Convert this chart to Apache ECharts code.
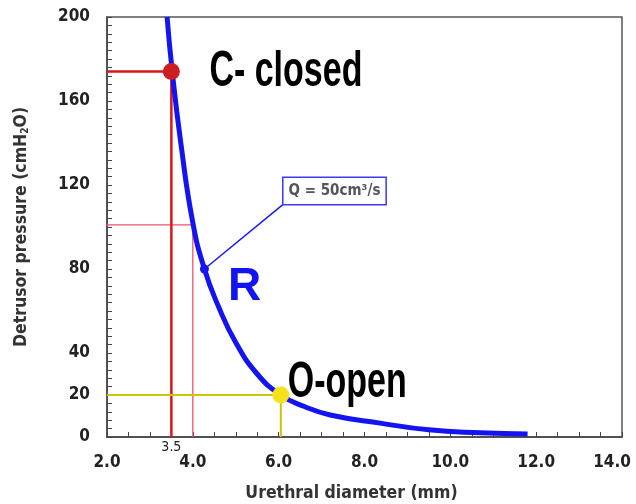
<!DOCTYPE html>
<html><head><meta charset="utf-8">
<script src="https://cdn.jsdelivr.net/npm/echarts@6/dist/echarts.min.js"></script>
<style>html,body{margin:0;padding:0;background:#fff}#c{width:636px;height:504px}</style>
</head><body><div id="c"></div>
<script>
// Detrusor pressure vs urethral diameter, Q = 50 cm3/s
const curveR = [[3.40,200],[3.52,174],[3.72,140],[4.00,102],[4.27,80],[4.60,62],[5.00,45],[5.50,30],[6.05,20],[6.60,14.5],[7.20,10.5],[8.40,6.5],[9.50,3.4],[10.70,2.0],[11.80,1.4]];
const closedPt = [3.5, 174];
const refPt = [4.0, 101];
const openPt = [6.05, 20];
const rPt = [4.27, 80];
const qLabelPt = [6.09, 110.5];
const yLabelValues = [0, 20, 40, 80, 120, 160, 200];
const FONT = '"DejaVu Sans Condensed", "Liberation Sans Narrow", sans-serif';
const BIG = '"Liberation Sans", Arial, sans-serif';

const chart = echarts.init(document.getElementById('c'), null, {renderer:'canvas'});
chart.setOption({
  animation:false,
  backgroundColor:'#fff',
  grid:{left:107,right:14,top:17,bottom:67,show:true,borderColor:'#555',borderWidth:1.5,outerBoundsMode:'none',containLabel:false},
  xAxis:{type:'value',min:2,max:14,interval:2,
    name:'Urethral diameter (mm)',nameLocation:'middle',nameGap:47,
    nameTextStyle:{fontFamily:FONT,fontWeight:'bold',fontSize:17.5,color:'#333',padding:[0,26,0,0]},
    axisLine:{show:true,lineStyle:{color:'#444',width:1.5}},
    axisTick:{show:true,inside:true,length:5,lineStyle:{color:'#444'}},
    minorTick:{show:true,splitNumber:4,length:5,lineStyle:{color:'#444'}},
    splitLine:{show:false},
    axisLabel:{margin:17,fontFamily:FONT,fontWeight:'bold',fontSize:17,color:'#222',
      formatter:v=>v===14?'{last|'+v.toFixed(1)+'}':v.toFixed(1),
      rich:{last:{fontFamily:FONT,fontWeight:'bold',fontSize:17,color:'#222',padding:[0,20,0,0]}}}
  },
  yAxis:{type:'value',min:0,max:200,interval:20,
    name:'Detrusor pressure (cmH{sub|2}O)',nameLocation:'middle',nameGap:77,
    nameTextStyle:{fontFamily:FONT,fontWeight:'bold',fontSize:17.5,color:'#333',
      rich:{sub:{fontFamily:FONT,fontWeight:'bold',fontSize:10,color:'#333',verticalAlign:'bottom',padding:[8,0,0,0]}}},
    axisLine:{show:true,lineStyle:{color:'#444',width:1.5}},
    axisTick:{show:true,inside:true,length:5,lineStyle:{color:'#444'}},
    minorTick:{show:true,splitNumber:5,length:5,lineStyle:{color:'#444'}},
    splitLine:{show:false},
    axisLabel:{margin:17,fontFamily:FONT,fontWeight:'bold',fontSize:17,color:'#222',
      formatter:v=>yLabelValues.indexOf(v)>=0?String(v):''}
  },
  series:[
    {type:'line',data:[[1.84,refPt[1]],refPt,[refPt[0],0]],symbol:'none',clip:false,z:2,
      lineStyle:{color:'#f2506e',width:1.3}},
    {type:'line',data:[[2,closedPt[1]],closedPt,[closedPt[0],0]],symbol:'none',z:3,
      lineStyle:{color:'#d81818',width:2.5}},
    {type:'line',data:[[2,openPt[1]],openPt,[openPt[0],0]],symbol:'none',z:3,
      lineStyle:{color:'#cfc40a',width:2}},
    {type:'line',data:[rPt,qLabelPt],symbol:'none',z:4,lineStyle:{color:'#1a1af0',width:1.5}},
    {type:'line',data:curveR,smooth:0.5,symbol:'none',z:5,lineStyle:{color:'#1414f0',width:5}},
    {type:'scatter',z:6,itemStyle:{opacity:1},data:[
      {value:closedPt,symbolSize:17,itemStyle:{color:'#cc1f22',opacity:1}},
      {value:openPt,symbolSize:17,itemStyle:{color:'#f5e21c',opacity:1}},
      {value:rPt,symbolSize:9,itemStyle:{color:'#1414f0',opacity:1},
        label:{show:true,position:'right',distance:19,offset:[0,18],formatter:'R',fontFamily:BIG,fontWeight:'bold',fontSize:46,color:'#1414f0'}},
      {value:qLabelPt,symbolSize:0,itemStyle:{color:'transparent'},
        label:{show:true,position:'right',distance:0,offset:[1,-14],formatter:'Q = 50cm³/s',fontFamily:FONT,fontWeight:'bold',fontSize:15,color:'#555',
          borderColor:'#3a3af0',borderWidth:1.5,padding:[6,5,5,5],backgroundColor:'#fff'}},
      {value:[closedPt[0],0],symbolSize:0,itemStyle:{color:'transparent'},
        label:{show:true,position:'bottom',distance:3,formatter:'3.5',fontFamily:FONT,fontSize:14,color:'#222'}}
    ]}
  ]
});
const pc = chart.convertToPixel({gridIndex:0}, closedPt);
const po = chart.convertToPixel({gridIndex:0}, openPt);
chart.setOption({graphic:[
  {type:'text',x:pc[0]+38,y:pc[1]+0.5,scaleX:0.68,z:10,
    style:{text:'C- closed',x:0,y:0,fontFamily:BIG,fontWeight:'bold',fontSize:50,fill:'#000',align:'left',verticalAlign:'middle'}},
  {type:'text',x:po[0]+7,y:po[1]-12,scaleX:0.68,z:10,
    style:{text:'O-open',x:0,y:0,fontFamily:BIG,fontWeight:'bold',fontSize:50,fill:'#000',align:'left',verticalAlign:'middle'}}
]});
</script></body></html>
